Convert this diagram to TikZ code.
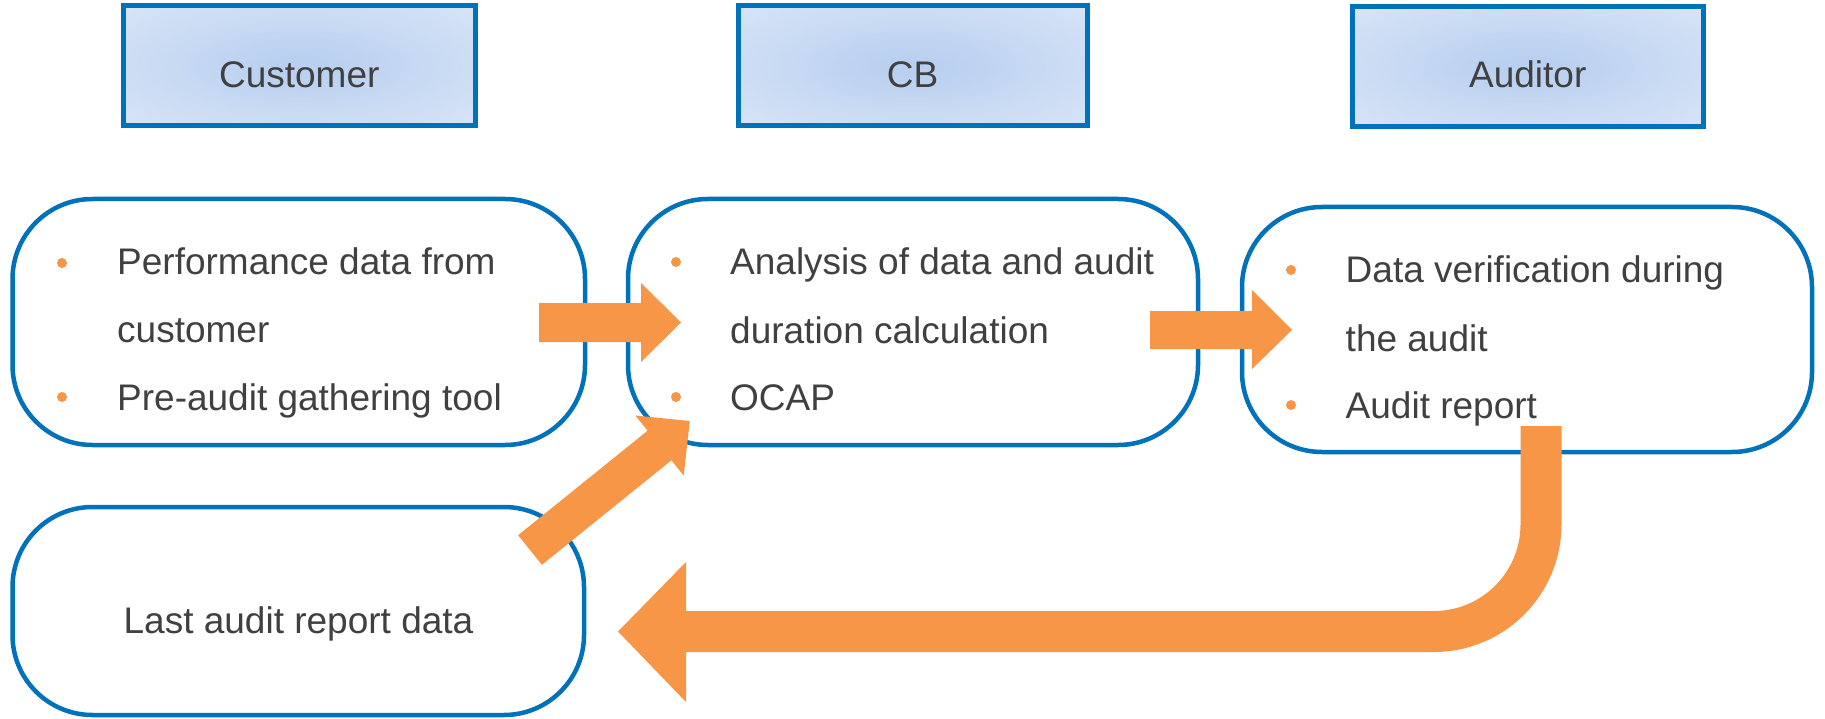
\documentclass[tikz,border=0pt]{standalone}
\usepackage{fontspec}
\setmainfont{Liberation Sans}
\definecolor{bblue}{RGB}{0,114,188}
\definecolor{aorange}{RGB}{247,150,70}
\definecolor{tgray}{RGB}{64,64,64}
\definecolor{hin}{RGB}{186,208,240}
\definecolor{hout}{RGB}{230,238,250}
\pgfdeclareradialshading{hdrshade}{\pgfpoint{0bp}{0bp}}{color(0bp)=(hin); color(4bp)=(hin); color(50bp)=(hout); color(72bp)=(hout)}
\begin{document}
\begin{tikzpicture}[x=1pt,y=-1pt,
  hdr/.style={draw=bblue, line width=5pt, shading=hdrshade, inner sep=0pt},
  box/.style={draw=bblue, line width=4.5pt, rounded corners=80pt, fill=white, inner sep=0pt},
  txt/.style={font=\fontsize{37}{44}\selectfont, text=tgray, inner sep=0pt, anchor=base west},
  ctxt/.style={font=\fontsize{37}{44}\selectfont, text=tgray, inner sep=0pt, anchor=base},
  bul/.style={circle, fill=aorange, inner sep=0pt, minimum size=10pt},
  blk/.style={fill=aorange, draw=none}]
\useasboundingbox (0,0) rectangle (1825,719);
% header boxes
\node[hdr, minimum width=351.5pt, minimum height=119.5pt] (hcust) at (299.25,65.75) {};
\node[hdr, minimum width=349pt, minimum height=120pt] (hcb) at (912.5,66) {};
\node[hdr, minimum width=351.5pt, minimum height=120pt] (haud) at (1527.75,66.5) {};
\node[ctxt] (lcust) at ([yshift=-21.5pt]hcust.center) {Customer};
\node[ctxt] (lcb) at ([yshift=-21.5pt]hcb.center) {CB};
\node[ctxt] (laud) at ([yshift=-21.5pt]haud.center) {Auditor};
% rounded boxes
\node[box, minimum width=572.5pt, minimum height=246pt] (b1) at (298.75,322) {};
\node[box, minimum width=570pt, minimum height=246pt] (b2) at (913,322) {};
\node[box, minimum width=570pt, minimum height=245pt] (b3) at (1527,329.5) {};
\node[box, minimum width=571.5pt, minimum height=208pt] (b4) at (298.25,611) {};
% box 1 text
\node[bul] (p1) at (62,263) {};
\node[bul] (p2) at (62,397) {};
\node[txt] (t11) at (117,275) {Performance data from};
\node[txt] (t12) at (117,342) {customer};
\node[txt] (t13) at (117,410) {Pre-audit gathering tool};
% box 2 text
\node[bul] (q1) at (676,262) {};
\node[bul] (q2) at (676,397) {};
\node[txt] (t21) at (730,275) {Analysis of data and audit};
\node[txt] (t22) at (730,343) {duration calculation};
\node[txt] (t23) at (730,410) {OCAP};
% box 3 text
\node[bul] (r1) at (1291,270) {};
\node[bul] (r2) at (1291,405) {};
\node[txt] (t31) at (1345.5,283) {Data verification during};
\node[txt] (t32) at (1345.5,351) {the audit};
\node[txt] (t33) at (1345.5,418) {Audit report};
% box 4 text
\node[ctxt] (t41) at (298.5,633) {Last audit report data};
% arrow box1 -> box2
\fill[blk] (539,303) -- (641,303) -- (641,283) -- (681,322.5) -- (641,362) -- (641,342) -- (539,342) -- cycle;
% arrow box2 -> box3
\fill[blk] (1150,311) -- (1252,311) -- (1252,290) -- (1292,330) -- (1252,369) -- (1252,349) -- (1150,349) -- cycle;
% diagonal arrow box4 -> box2
\fill[blk] (541.9,564.8) -- (518.1,535.2) -- (647.6,430.7) -- (635.3,415.5) -- (689.8,421.0) -- (683.7,475.5) -- (671.4,460.3) -- cycle;
% U-turn arrow box3 -> box4
\draw[aorange, line width=41pt, rounded corners=107pt] (1541,426) |- (660,631.5);
\fill[blk] (686,562) -- (618,631.5) -- (686,702) -- cycle;
\end{tikzpicture}
\end{document}
